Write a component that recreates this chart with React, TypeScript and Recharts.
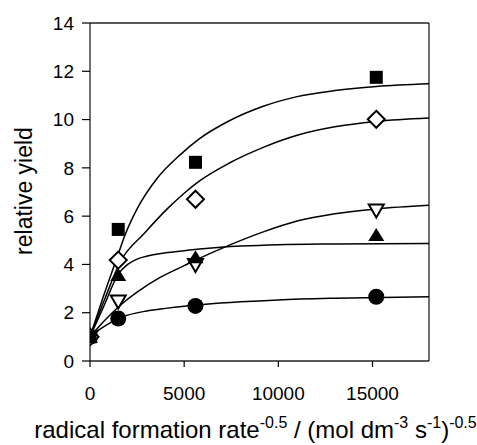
import React from 'react';
import { ComposedChart, Line, Scatter, XAxis, YAxis, ReferenceLine } from 'recharts';

const xTicks = [0, 5000, 10000, 15000];
const yTicks = [0, 2, 4, 6, 8, 10, 12, 14];
const xMax = 18000;
const yMax = 14;

const markerX = [0, 1500, 5600, 15200];
const squareY = [1, 5.45, 8.23, 11.75];
const diamondY = [1, 4.18, 6.7, 10.01];
const triUpY = [1, 3.56, 4.3, 5.22];
const triDownY = [1, 2.46, 3.98, 6.23];
const circleY = [1, 1.76, 2.28, 2.66];

const squareCurveX = [0, 700, 1400, 1850, 2500, 3600, 4800, 5800, 7400, 9200, 11000, 13000, 15200, 18000];
const squareCurveY = [1, 2.65, 4.2, 5.2, 6.3, 7.6, 8.55, 9.2, 9.95, 10.55, 10.95, 11.2, 11.37, 11.48];

const diamondCurveX = [0, 800, 1600, 2900, 4100, 5000, 5800, 7400, 9200, 11000, 13000, 15200, 18000];
const diamondCurveY = [1, 2.6, 4.1, 5.3, 6.3, 6.95, 7.45, 8.2, 8.85, 9.35, 9.7, 9.92, 10.06];

const triDownCurveX = [0, 800, 1600, 2500, 3700, 5000, 5800, 7400, 9200, 11000, 13000, 15200, 18000];
const triDownCurveY = [1, 1.7, 2.3, 2.85, 3.45, 3.95, 4.25, 4.8, 5.35, 5.8, 6.1, 6.3, 6.45];

const triUpCurveX = [0, 750, 1500, 2000, 2500, 3000, 4000, 5000, 6000, 8000, 10000, 13000, 18000];
const triUpCurveY = [1, 2.3, 3.6, 4.0, 4.22, 4.34, 4.48, 4.57, 4.65, 4.76, 4.82, 4.85, 4.87];

const circleCurveX = [0, 500, 1000, 1500, 2000, 3000, 4000, 5000, 6000, 8000, 10000, 13000, 18000];
const circleCurveY = [1, 1.3, 1.55, 1.76, 1.9, 2.07, 2.18, 2.27, 2.34, 2.45, 2.53, 2.6, 2.66];

const pts = (xs: number[], ys: number[]) => xs.map((x, i) => ({ x, y: ys[i] }));

const FONT = '"Liberation Sans", Arial, sans-serif';

const Square = (p: any) => <rect x={p.cx - 6.5} y={p.cy - 6.5} width={13} height={13} fill="#000" />;
const Diamond = (p: any) => (
  <polygon
    points={`${p.cx},${p.cy - 8.5} ${p.cx + 8.5},${p.cy} ${p.cx},${p.cy + 8.5} ${p.cx - 8.5},${p.cy}`}
    fill="#fff"
    stroke="#000"
    strokeWidth={2}
  />
);
const TriUp = (p: any) => (
  <polygon
    points={`${p.cx},${p.cy - 7} ${p.cx + 8},${p.cy + 6} ${p.cx - 8},${p.cy + 6}`}
    fill="#000"
  />
);
const TriDown = (p: any) => (
  <polygon
    points={`${p.cx - 7.5},${p.cy - 6} ${p.cx + 7.5},${p.cy - 6} ${p.cx},${p.cy + 7}`}
    fill="#fff"
    stroke="#000"
    strokeWidth={2}
  />
);
const Dot = (p: any) => <circle cx={p.cx} cy={p.cy} r={8} fill="#000" />;

const XLabel = (p: any) => {
  const vb = p.viewBox || { x: 90, y: 361, width: 339 };
  return (
    <text x={vb.x + vb.width / 2 - 4} y={vb.y + 77} textAnchor="middle" fontFamily={FONT} fontSize={24} fill="#000">
      radical formation rate
      <tspan dy={-10} fontSize={16}>-0.5</tspan>
      <tspan dy={10}> / (mol dm</tspan>
      <tspan dy={-10} fontSize={16}>-3</tspan>
      <tspan dy={10}> s</tspan>
      <tspan dy={-10} fontSize={16}>-1</tspan>
      <tspan dy={10}>)</tspan>
      <tspan dy={-10} fontSize={16}>-0.5</tspan>
    </text>
  );
};

const YLabel = (p: any) => {
  const vb = p.viewBox || { x: 30, y: 23, height: 338 };
  const cx = 32;
  const cy = vb.y + vb.height / 2 - 1;
  return (
    <text x={cx} y={cy} transform={`rotate(-90, ${cx}, ${cy})`} textAnchor="middle" fontFamily={FONT} fontSize={23} fill="#000">
      relative yield
    </text>
  );
};

const curveProps = {
  type: 'monotone' as const,
  dataKey: 'y',
  stroke: '#000',
  strokeWidth: 1.5,
  dot: false,
  activeDot: false,
  isAnimationActive: false,
  legendType: 'none' as const,
};

export default function App() {
  const tickStyle = { fontFamily: FONT, fontSize: 19, fill: '#000' };
  return (
    <div style={{ position: 'absolute', left: 0, top: 0, background: '#fff' }}>
      <ComposedChart width={477} height={445} margin={{ top: 23, right: 48, left: 30, bottom: 0 }}>
        <XAxis
          dataKey="x"
          type="number"
          domain={[0, xMax]}
          ticks={xTicks}
          allowDataOverflow
          height={84}
          tickSize={6}
          tickMargin={20}
          tick={tickStyle}
          stroke="#000"
          axisLine={{ stroke: '#222', strokeWidth: 1.3 }}
          tickLine={{ stroke: '#000', strokeWidth: 1.2 }}
          label={{ content: XLabel }}
        />
        <YAxis
          type="number"
          domain={[0, yMax]}
          ticks={yTicks}
          width={60}
          tickSize={8}
          tickMargin={8}
          tick={tickStyle}
          axisLine={{ stroke: '#222', strokeWidth: 1.3 }}
          tickLine={{ stroke: '#000', strokeWidth: 1.2 }}
          label={{ content: YLabel }}
        />
        <ReferenceLine y={yMax} stroke="#222" strokeWidth={1.3} ifOverflow="visible" />
        <ReferenceLine x={xMax} stroke="#222" strokeWidth={1.3} ifOverflow="visible" />

        <Line {...curveProps} data={pts(squareCurveX, squareCurveY)} />
        <Line {...curveProps} data={pts(diamondCurveX, diamondCurveY)} />
        <Line {...curveProps} data={pts(triDownCurveX, triDownCurveY)} />
        <Line {...curveProps} data={pts(triUpCurveX, triUpCurveY)} />
        <Line {...curveProps} data={pts(circleCurveX, circleCurveY)} />

        <Scatter data={pts(markerX, circleY)} dataKey="y" shape={Dot} isAnimationActive={false} />
        <Scatter data={pts(markerX, triDownY)} dataKey="y" shape={TriDown} isAnimationActive={false} />
        <Scatter data={pts(markerX, triUpY)} dataKey="y" shape={TriUp} isAnimationActive={false} />
        <Scatter data={pts(markerX, diamondY)} dataKey="y" shape={Diamond} isAnimationActive={false} />
        <Scatter data={pts(markerX, squareY)} dataKey="y" shape={Square} isAnimationActive={false} />
      </ComposedChart>
    </div>
  );
}
